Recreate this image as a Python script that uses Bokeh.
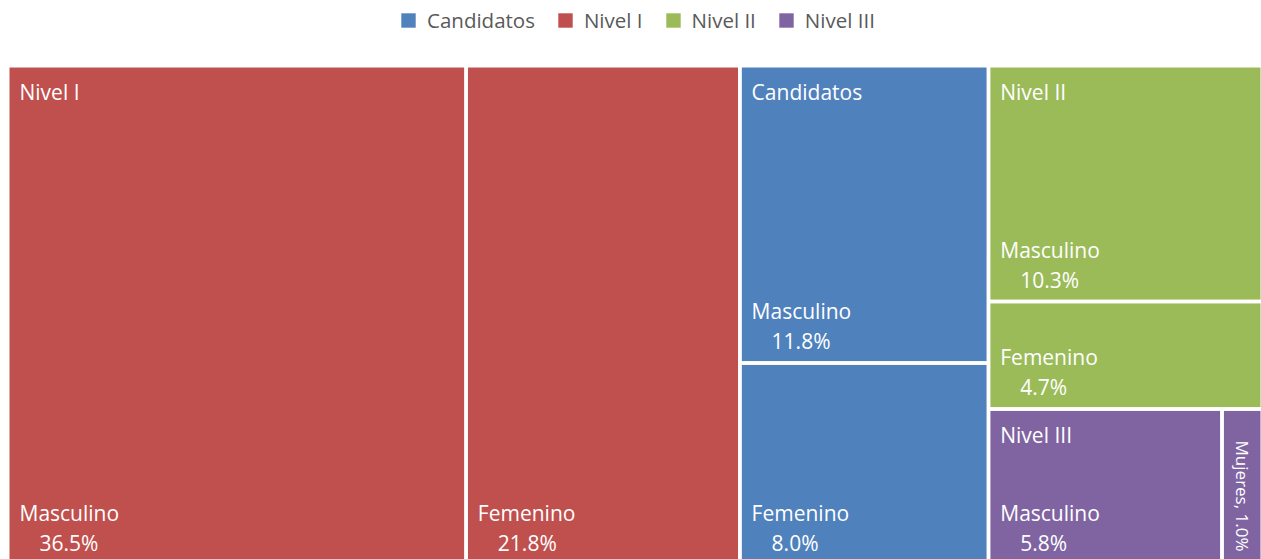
import math
from bokeh.plotting import figure
from bokeh.models import ColumnDataSource, Range1d, Legend, LegendItem
from bokeh.core.properties import value
from bokeh.embed import file_html
from bokeh.resources import INLINE

# ---------------- data ----------------
groups = ["Candidatos", "Nivel I", "Nivel II", "Nivel III"]
group_colors = ["#4F81BD", "#C0504D", "#9BBB59", "#8064A2"]

cell_group = ["Nivel I", "Nivel I", "Candidatos", "Candidatos",
              "Nivel II", "Nivel II", "Nivel III", "Nivel III"]
cell_name = ["Masculino", "Femenino", "Masculino", "Femenino",
             "Masculino", "Femenino", "Masculino", "Mujeres"]
cell_pct = [36.5, 21.8, 11.8, 8.0, 10.3, 4.7, 5.8, 1.0]

# treemap structure (slice direction, children = cell indices or sub-nodes)
tree = ("h", [("h", [0, 1]),
              ("v", [2, 3]),
              ("v", [("v", [4, 5]), ("h", [6, 7])])])

# ---------------- layout ----------------
W, H = 1261, 559
GAP = 3.5
TM = (7.25, -5.0, 1261.75, 493.75)   # left, bottom, right, top (y up)
FONT = "Open Sans"


def weight(node):
    if isinstance(node, int):
        return cell_pct[node]
    return sum(weight(c) for c in node[1])


rects = {}


def layout(node, x0, y0, x1, y1):
    if isinstance(node, int):
        rects[node] = (x0, y0, x1, y1)
        return
    d, kids = node
    tot = weight(node)
    if d == "h":
        x = x0
        for k in kids:
            w = (x1 - x0) * weight(k) / tot
            layout(k, x, y0, x + w, y1)
            x += w
    else:
        y = y1
        for k in kids:
            h = (y1 - y0) * weight(k) / tot
            layout(k, x0, y - h, x1, y)
            y -= h


layout(tree, *TM)
n = len(cell_pct)

p = figure(width=W, height=H, x_range=Range1d(0, W), y_range=Range1d(0, H),
           output_backend="svg", toolbar_location=None, min_border=0,
           x_axis_type=None, y_axis_type=None)
p.grid.visible = False
p.outline_line_color = None
p.background_fill_color = "white"
p.border_fill_color = "white"

# filled cells, one renderer per group (used by legend)
group_renderers = {}
for g, c in zip(groups, group_colors):
    idx = [i for i in range(n) if cell_group[i] == g]
    s = ColumnDataSource(dict(
        left=[rects[i][0] for i in idx], bottom=[rects[i][1] for i in idx],
        right=[rects[i][2] for i in idx], top=[rects[i][3] for i in idx]))
    group_renderers[g] = p.quad(left="left", right="right", bottom="bottom",
                                top="top", source=s, fill_color=c, line_color=None)

# white separators
all_src = ColumnDataSource(dict(
    left=[rects[i][0] for i in range(n)], bottom=[rects[i][1] for i in range(n)],
    right=[rects[i][2] for i in range(n)], top=[rects[i][3] for i in range(n)]))
p.quad(left="left", right="right", bottom="bottom", top="top", source=all_src,
       fill_color=None, line_color="white", line_width=GAP)

# labels
hx, hy, htxt = [], [], []
rx, ry, rtxt = [], [], []
seen = set()
for i in range(n):
    x0, y0, x1, y1 = rects[i]
    vx0, vy0, vx1, vy1 = x0 + GAP / 2, y0 + GAP / 2, x1 - GAP / 2, y1 - GAP / 2
    if cell_group[i] not in seen:
        seen.add(cell_group[i])
        hx.append(vx0 + 10); hy.append(vy1 - 24); htxt.append(cell_group[i])
    if vx1 - vx0 < 80:
        rx.append((vx0 + vx1) / 2); ry.append(max(vy0, 0) + 8)
        rtxt.append(f"{cell_name[i]}, {cell_pct[i]:.1f}%")
    else:
        hx.append(vx0 + 10); hy.append(max(vy0, -3) + 50); htxt.append(cell_name[i])
        hx.append(vx0 + 30); hy.append(max(vy0, -3) + 20); htxt.append(f"{cell_pct[i]:.1f}%")

p.text(x=hx, y=hy, text=htxt, text_color="white", text_font=value(FONT),
       text_font_size="21px", text_align="left", text_baseline="middle")
p.text(x=rx, y=ry, text=rtxt, text_color="white", text_font=value(FONT),
       text_font_size="17px", text_align="right", text_baseline="middle",
       angle=-math.pi / 2)

# legend
items = [LegendItem(label=g, renderers=[group_renderers[g]]) for g in groups]
legend = Legend(items=items, orientation="horizontal", location=(399, 525),
                label_text_font=FONT, label_text_font_size="20.5px",
                label_text_color="#595959", glyph_width=18, glyph_height=18,
                label_standoff=10, spacing=21, padding=0, margin=0,
                border_line_color=None, background_fill_alpha=0)
p.add_layout(legend)

open("out.html", "w").write(file_html(p, INLINE))
